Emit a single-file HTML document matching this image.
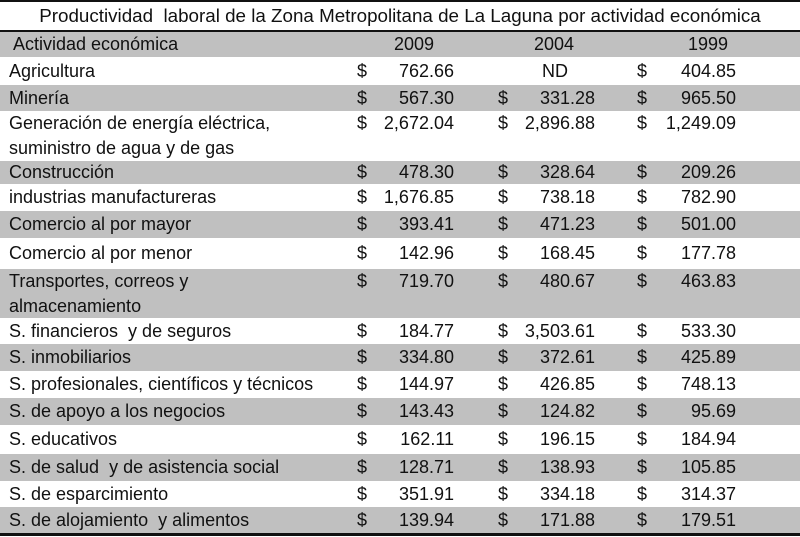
<!DOCTYPE html>
<html><head><meta charset="utf-8"><style>
html,body{margin:0;padding:0;background:#fff;}
#t{position:relative;width:800px;height:537px;overflow:hidden;font-family:"Liberation Sans",sans-serif;color:#111;font-size:18px;}
.ln{position:absolute;left:0;width:800px;background:#111;}
.row{position:absolute;left:0;width:800px;}
.g{background:#c0c0c0;}
.lab{position:absolute;left:9px;top:0;line-height:26px;white-space:nowrap;}
.cur{position:absolute;top:0;line-height:26px;}
.val{position:absolute;top:0;line-height:26px;text-align:right;width:120px;}
.yr{position:absolute;top:0;line-height:25px;width:80px;text-align:center;}
</style></head><body>
<div id="t">
<div class="ln" style="top:0;height:2px"></div>
<div class="row" style="top:2px;height:28px;text-align:center;line-height:28px;font-size:18.8px">Productividad&nbsp; laboral de la Zona Metropolitana de La Laguna por actividad económica</div>
<div class="ln" style="top:30px;height:2px"></div>
<div class="row g" style="top:32px;height:25px">
<div class="lab" style="line-height:25px;left:13px">Actividad económica</div>
<div class="yr" style="left:374px">2009</div>
<div class="yr" style="left:514px">2004</div>
<div class="yr" style="left:668px">1999</div>
</div>
<div class="ln" style="top:533px;height:3px"></div>
</div>
<script>
const activities=["Agricultura","Minería","Generación de energía eléctrica,<br>suministro de agua y de gas","Construcción","industrias manufactureras","Comercio al por mayor","Comercio al por menor","Transportes, correos y<br>almacenamiento","S. financieros&nbsp; y de seguros","S. inmobiliarios","S. profesionales, científicos y técnicos","S. de apoyo a los negocios","S. educativos","S. de salud&nbsp; y de asistencia social","S. de esparcimiento","S. de alojamiento&nbsp; y alimentos"];
const v2009=["762.66","567.30","2,672.04","478.30","1,676.85","393.41","142.96","719.70","184.77","334.80","144.97","143.43","162.11","128.71","351.91","139.94"];
const v2004=["ND","331.28","2,896.88","328.64","738.18","471.23","168.45","480.67","3,503.61","372.61","426.85","124.82","196.15","138.93","334.18","171.88"];
const v1999=["404.85","965.50","1,249.09","209.26","782.90","501.00","177.78","463.83","533.30","425.89","748.13","95.69","184.94","105.85","314.37","179.51"];
const tops=[58,85,111,161,184,211,238,269,318,344,371,398,425,454,481,507,533];
const t=document.getElementById('t');
activities.forEach((a,i)=>{
  const r=document.createElement('div');
  r.className='row'+(i%2?' g':'');
  const h=tops[i+1]-tops[i];
  r.style.top=tops[i]+'px';r.style.height=h+'px';
  
  
  const two=a.includes('<br>');
  const lh=two?'25px':h+'px';
  const l=document.createElement('div');l.className='lab';l.innerHTML=a;
  l.style.lineHeight=lh;
  
  
  r.appendChild(l);
  [[v2009,357,334],[v2004,498,475],[v1999,637,616]].forEach(([arr,cx,vx])=>{
    const v=arr[i];
    if(v==='ND'){
      const n=document.createElement('div');n.className='yr';n.style.left='515px';n.style.lineHeight=lh;n.textContent='ND';
      
      
      r.appendChild(n);return;
    }
    const c=document.createElement('div');c.className='cur';c.style.left=cx+'px';c.style.lineHeight=lh;c.textContent='$';
    
    
    r.appendChild(c);
    const e=document.createElement('div');e.className='val';e.style.left=vx+'px';e.style.lineHeight=lh;e.textContent=v;
    
    
    r.appendChild(e);
  });
  t.appendChild(r);
});
</script>
</body></html>
